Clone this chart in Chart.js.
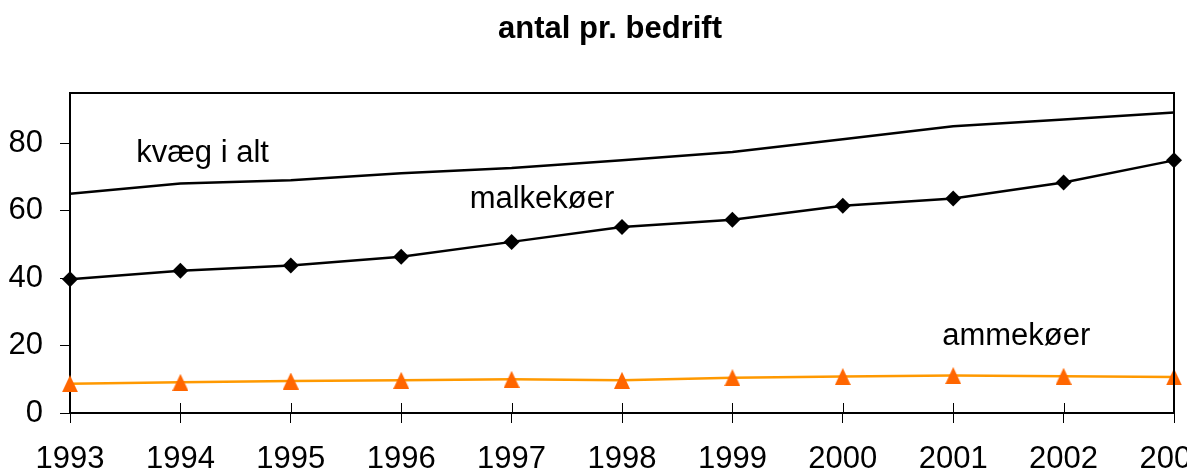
<!DOCTYPE html>
<html>
<head>
<meta charset="utf-8">
<script src="https://cdn.jsdelivr.net/npm/chart.js@4/dist/chart.umd.min.js"></script>
<style>
  html, body { margin: 0; padding: 0; overflow: hidden; background: #fff; }
  #wrap { width: 1220px; height: 473px; }
</style>
</head>
<body>
<div id="wrap"><canvas id="c" width="1220" height="473"></canvas></div>
<script>
// ---- data ----
const years = ['1993','1994','1995','1996','1997','1998','1999','2000','2001','2002','2003'];
const kvaegIAlt = [65.1, 68.1, 69.1, 71.2, 72.7, 75.0, 77.5, 81.3, 85.1, 87.1, 89.2];
const malkekoer = [39.7, 42.2, 43.8, 46.4, 50.8, 55.2, 57.4, 61.5, 63.7, 68.4, 75.0];
const ammekoer  = [8.7, 9.1, 9.5, 9.7, 10.0, 9.7, 10.5, 10.8, 11.1, 10.9, 10.7];
const yTickValues = [0, 20, 40, 60, 80];
const seriesNames = ['kvæg i alt', 'malkekøer', 'ammekøer'];
const chartTitle = 'antal pr. bedrift';

const FONT = '"Liberation Sans", Arial, sans-serif';

// triangle marker image (Excel-style, bbox-centered)
function triangleImage(w, h, color) {
  const cv = document.createElement('canvas');
  cv.width = w; cv.height = h;
  const g = cv.getContext('2d');
  g.fillStyle = color;
  g.beginPath();
  g.moveTo(w / 2, 0);
  g.lineTo(w, h);
  g.lineTo(0, h);
  g.closePath();
  g.fill();
  return cv;
}
const triImg = triangleImage(16, 17, '#FF6600');

// annotation labels placed in data coordinates (category index, value)
const labelPlugin = {
  id: 'seriesLabels',
  afterDatasetsDraw(chart, args, opts) {
    const ctx = chart.ctx;
    const xs = chart.scales.x, ys = chart.scales.y;
    ctx.save();
    ctx.font = '31px ' + FONT;
    ctx.fillStyle = '#000';
    ctx.textAlign = 'left';
    ctx.textBaseline = 'alphabetic';
    opts.items.forEach(it => {
      const x = xs.getPixelForValue(it.x);
      const y = ys.getPixelForValue(it.y);
      ctx.fillText(seriesNames[it.series], x, y);
    });
    ctx.restore();
  }
};

// frame (top/right border) and inner halves of x tick marks
const framePlugin = {
  id: 'frame',
  afterDraw(chart) {
    const ctx = chart.ctx;
    const a = chart.chartArea;
    const xs = chart.scales.x;
    ctx.save();
    ctx.strokeStyle = '#000';
    ctx.lineWidth = 2;
    ctx.beginPath();
    ctx.moveTo(a.left, a.top);
    ctx.lineTo(a.right, a.top);
    ctx.lineTo(a.right, a.bottom);
    ctx.stroke();
    ctx.lineWidth = 1;
    ctx.beginPath();
    xs.ticks.forEach((t, i) => {
      const px = Math.round(xs.getPixelForTick(i)) + 0.5;
      ctx.moveTo(px, a.bottom);
      ctx.lineTo(px, a.bottom - 10);
    });
    ctx.stroke();
    ctx.restore();
  }
};

new Chart(document.getElementById('c'), {
  type: 'line',
  data: {
    labels: years,
    datasets: [
      {
        label: seriesNames[0], data: kvaegIAlt,
        borderColor: '#000', borderWidth: 2.5, pointRadius: 0, tension: 0, clip: false
      },
      {
        label: seriesNames[1], data: malkekoer,
        borderColor: '#000', borderWidth: 2.5, tension: 0, clip: false,
        pointStyle: 'rectRot', pointRadius: 8, pointBackgroundColor: '#000', pointBorderColor: '#000', pointBorderWidth: 0
      },
      {
        label: seriesNames[2], data: ammekoer,
        borderColor: '#FF9900', borderWidth: 2.5, tension: 0, clip: false,
        pointStyle: triImg, pointRadius: 8
      }
    ]
  },
  options: {
    responsive: false,
    animation: false,
    events: [],
    layout: { padding: 0, autoPadding: false },
    plugins: {
      legend: { display: false },
      tooltip: { enabled: false },
      title: {
        display: true,
        text: chartTitle,
        color: '#000',
        font: { family: FONT, size: 31, weight: 'bold', lineHeight: 1.2 },
        padding: { top: 11, bottom: 44.8 }
      },
      seriesLabels: {
        items: [
          { series: 0, x: 0.6, y: 74.5 },
          { series: 1, x: 3.62, y: 61.0 },
          { series: 2, x: 7.9, y: 20.1 }
        ]
      }
    },
    scales: {
      x: {
        type: 'category',
        offset: false,
        grid: { display: true, drawOnChartArea: false, drawTicks: true, tickLength: 10, color: '#000', lineWidth: 1 },
        border: { display: true, color: '#000', width: 2 },
        ticks: { color: '#000', font: { family: FONT, size: 31 }, padding: 18, maxRotation: 0, autoSkip: false },
        afterFit: s => { s.height = 60; s.paddingLeft = 0; s.paddingRight = 0; }
      },
      y: {
        type: 'linear',
        min: 0, max: 95,
        grid: { display: true, drawOnChartArea: false, drawTicks: true, tickLength: 10, color: '#000', lineWidth: 1 },
        border: { display: true, color: '#000', width: 2 },
        ticks: { color: '#000', font: { family: FONT, size: 31 }, padding: 17 },
        afterBuildTicks: s => { s.ticks = yTickValues.map(v => ({ value: v })); },
        afterFit: s => { s.width = 70; s.paddingTop = 0; s.paddingBottom = 0; }
      },
      y2: {
        type: 'linear',
        position: 'right',
        grid: { display: false },
        border: { display: false },
        ticks: { display: false },
        afterFit: s => { s.width = 46; s.paddingTop = 0; s.paddingBottom = 0; }
      }
    }
  },
  plugins: [labelPlugin, framePlugin]
});
</script>
</body>
</html>
